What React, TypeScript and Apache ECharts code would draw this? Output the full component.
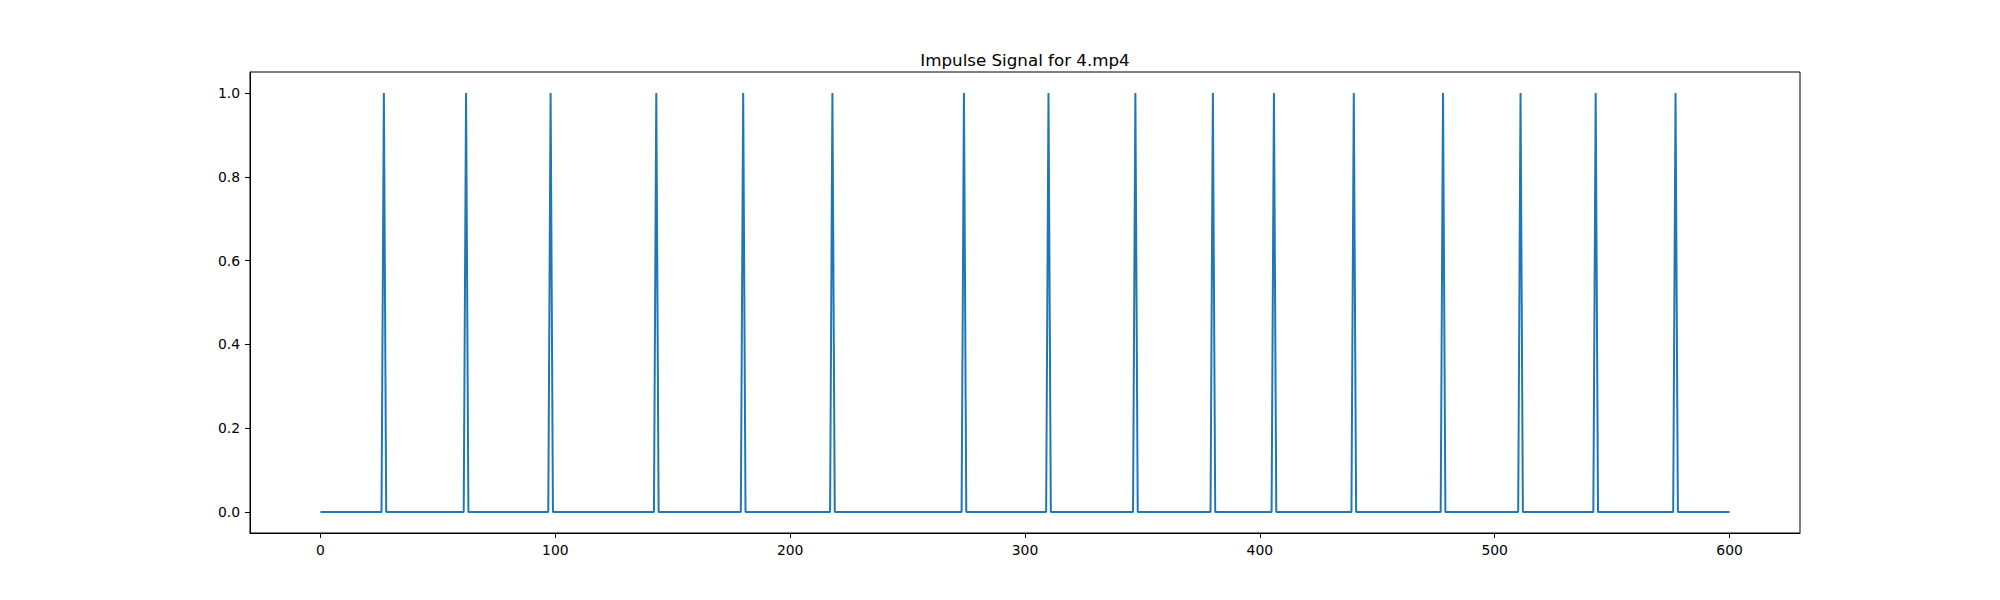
import React, { useEffect, useRef } from "react";
import * as echarts from "echarts";

const TITLE = "Impulse Signal for 4.mp4";
const SAMPLE_COUNT = 601; // frames 0..600
const impulseFrames = [27, 62, 98, 143, 180, 218, 274, 310, 347, 380, 406, 440, 478, 511, 543, 577];
const xTicks = [0, 100, 200, 300, 400, 500, 600];
const yTicks = [0, 0.2, 0.4, 0.6, 0.8, 1.0];

const buildSignal = (): [number, number][] => {
  const pts: [number, number][] = [];
  for (let i = 0; i < SAMPLE_COUNT; i++) {
    pts.push([i, impulseFrames.includes(i) ? 1 : 0]);
  }
  return pts;
};

export default function App() {
  const ref = useRef<HTMLDivElement>(null);
  useEffect(() => {
    if (!ref.current) return;
    const chart = echarts.init(ref.current, null, { renderer: "svg" });
    const font = "DejaVu Sans";
    chart.setOption({
      animation: false,
      backgroundColor: "#ffffff",
      textStyle: { fontFamily: font },
      grid: {
        left: 250,
        right: 200,
        top: 72,
        bottom: 67,
        show: true,
        borderColor: "#000000",
        borderWidth: 1,
        backgroundColor: "transparent",
      },
      graphic: [
        {
          type: "text",
          x: 1025,
          y: 68,
          style: {
            text: TITLE,
            fontFamily: font,
            fontSize: 16.7,
            fill: "#000000",
            textAlign: "center",
            textVerticalAlign: "bottom",
          },
        },
      ],
      xAxis: {
        type: "value",
        min: -30,
        max: 630,
        splitLine: { show: false },
        axisLine: { show: true, onZero: false, lineStyle: { color: "#000000", width: 1 } },
        axisTick: {
          show: true,
          length: 5,
          lineStyle: { color: "#000000", width: 1 },
          customValues: xTicks,
        },
        axisLabel: {
          show: true,
          color: "#000000",
          fontFamily: font,
          fontSize: 13.9,
          margin: 10,
          customValues: xTicks,
          formatter: (v: number) => String(v),
        },
      },
      yAxis: {
        type: "value",
        min: -0.05,
        max: 1.05,
        splitLine: { show: false },
        axisLine: { show: true, onZero: false, lineStyle: { color: "#000000", width: 1 } },
        axisTick: {
          show: true,
          length: 5,
          lineStyle: { color: "#000000", width: 1 },
          customValues: yTicks,
        },
        axisLabel: {
          show: true,
          color: "#000000",
          fontFamily: font,
          fontSize: 13.9,
          margin: 10,
          customValues: yTicks,
          formatter: (v: number) => v.toFixed(1),
        },
      },
      series: [
        {
          type: "line",
          data: buildSignal(),
          showSymbol: false,
          symbol: "none",
          lineStyle: { color: "#1f77b4", width: 2 },
          itemStyle: { color: "#1f77b4" },
          silent: true,
        },
      ],
    });
    return () => chart.dispose();
  }, []);
  return (
    <div
      ref={ref}
      style={{ position: "fixed", left: 0, top: 0, width: 2000, height: 600, background: "#fff" }}
    />
  );
}
